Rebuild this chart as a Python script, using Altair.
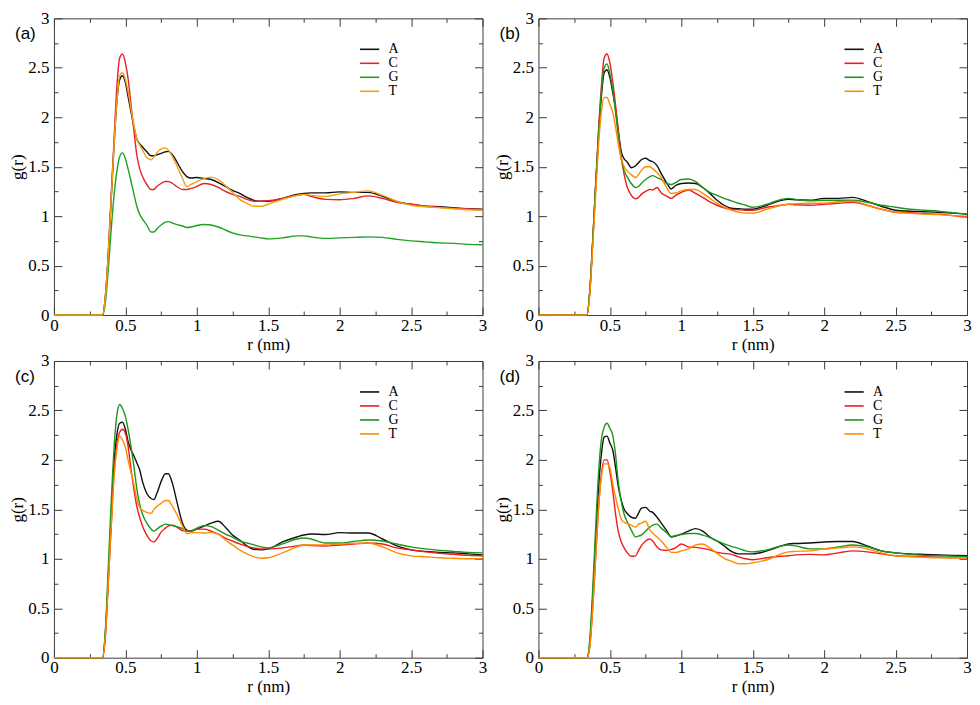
import altair as alt
import pandas as pd

# ---------------- data ----------------
R = [
    0.0, 0.34, 0.36, 0.38, 0.40, 0.42, 0.44, 0.46, 0.48, 0.50,
    0.52, 0.54, 0.56, 0.58, 0.60, 0.62, 0.65, 0.68, 0.70, 0.72,
    0.75, 0.78, 0.80, 0.83, 0.86, 0.90, 0.93, 0.96, 1.00, 1.05,
    1.10, 1.15, 1.20, 1.25, 1.30, 1.35, 1.40, 1.45, 1.50, 1.60,
    1.70, 1.75, 1.80, 1.90, 2.00, 2.10, 2.20, 2.30, 2.40, 2.50,
    2.60, 2.70, 2.80, 2.90, 3.00]

BASES = ["A", "C", "G", "T"]

# panel (a)
A_a = [
    0.0, 0.0, 0.18, 0.6, 1.15, 1.7, 2.15, 2.38, 2.42, 2.35,
    2.2, 2.05, 1.9, 1.78, 1.73, 1.70, 1.65, 1.61, 1.61, 1.62,
    1.635, 1.65, 1.655, 1.62, 1.55, 1.45, 1.40, 1.385, 1.39, 1.38,
    1.37, 1.34, 1.30, 1.26, 1.23, 1.19, 1.16, 1.15, 1.15, 1.18,
    1.22, 1.23, 1.235, 1.235, 1.245, 1.24, 1.24, 1.20, 1.15, 1.12,
    1.10, 1.095, 1.085, 1.075, 1.07]
C_a = [
    0.0, 0.0, 0.2, 0.62, 1.2, 1.75, 2.3, 2.6, 2.64, 2.55,
    2.38, 2.12, 1.86, 1.62, 1.48, 1.40, 1.32, 1.27, 1.27, 1.30,
    1.33, 1.35, 1.35, 1.33, 1.30, 1.27, 1.27, 1.28, 1.30, 1.33,
    1.32, 1.29, 1.25, 1.22, 1.20, 1.17, 1.15, 1.15, 1.155, 1.18,
    1.21, 1.22, 1.20, 1.17, 1.165, 1.18, 1.205, 1.18, 1.14, 1.12,
    1.10, 1.09, 1.08, 1.075, 1.065]
G_a = [
    0.0, 0.0, 0.12, 0.45, 0.85, 1.2, 1.45, 1.6, 1.64, 1.58,
    1.47, 1.35, 1.22, 1.10, 1.02, 0.97, 0.91, 0.84, 0.84, 0.87,
    0.91, 0.94, 0.945, 0.93, 0.915, 0.90, 0.885, 0.89, 0.905, 0.915,
    0.91, 0.89, 0.86, 0.83, 0.81, 0.80, 0.79, 0.78, 0.77, 0.78,
    0.80, 0.80, 0.79, 0.775, 0.78, 0.785, 0.79, 0.785, 0.765, 0.75,
    0.74, 0.73, 0.725, 0.715, 0.71]
T_a = [
    0.0, 0.0, 0.18, 0.6, 1.15, 1.7, 2.15, 2.42, 2.45, 2.38,
    2.25, 2.08, 1.92, 1.78, 1.72, 1.67, 1.59, 1.57, 1.60, 1.64,
    1.68, 1.69, 1.67, 1.60, 1.51, 1.38, 1.30, 1.32, 1.35, 1.38,
    1.395, 1.37, 1.31, 1.24, 1.17, 1.13, 1.10, 1.10, 1.12, 1.17,
    1.21, 1.22, 1.21, 1.20, 1.225, 1.24, 1.255, 1.21, 1.15, 1.11,
    1.095, 1.085, 1.075, 1.065, 1.06]

# panel (b)
A_b = [
    0.0, 0.0, 0.25, 0.75, 1.3, 1.8, 2.2, 2.45, 2.48, 2.4,
    2.25, 2.08, 1.85, 1.65, 1.58, 1.55, 1.49, 1.51, 1.54, 1.57,
    1.585, 1.56, 1.55, 1.51, 1.43, 1.33, 1.275, 1.31, 1.33, 1.335,
    1.33, 1.29, 1.23, 1.16, 1.11, 1.08, 1.075, 1.07, 1.07, 1.11,
    1.16, 1.17, 1.165, 1.16, 1.18, 1.18, 1.19, 1.15, 1.10, 1.06,
    1.05, 1.045, 1.04, 1.03, 1.02]
C_b = [
    0.0, 0.0, 0.25, 0.75, 1.3, 1.85, 2.3, 2.6, 2.64, 2.55,
    2.36, 2.12, 1.85, 1.6, 1.42, 1.30, 1.21, 1.175, 1.19, 1.22,
    1.25, 1.27, 1.265, 1.29, 1.235, 1.20, 1.18, 1.21, 1.24, 1.265,
    1.23, 1.19, 1.145, 1.11, 1.085, 1.07, 1.065, 1.06, 1.06, 1.09,
    1.11, 1.12, 1.115, 1.11, 1.12, 1.13, 1.14, 1.11, 1.07, 1.04,
    1.035, 1.025, 1.02, 1.005, 0.99]
G_b = [
    0.0, 0.0, 0.25, 0.75, 1.3, 1.8, 2.25, 2.5, 2.54, 2.44,
    2.28, 2.05, 1.8, 1.58, 1.46, 1.40, 1.33, 1.29, 1.30, 1.33,
    1.37, 1.40, 1.41, 1.39, 1.37, 1.33, 1.32, 1.34, 1.37, 1.375,
    1.35, 1.29, 1.24, 1.21, 1.18, 1.155, 1.13, 1.11, 1.09, 1.12,
    1.17, 1.18, 1.17, 1.155, 1.16, 1.16, 1.16, 1.14, 1.11, 1.09,
    1.07, 1.06, 1.05, 1.035, 1.02]
T_b = [
    0.0, 0.0, 0.22, 0.7, 1.2, 1.7, 2.05, 2.2, 2.2, 2.13,
    2.05, 1.9, 1.72, 1.58, 1.50, 1.46, 1.42, 1.39, 1.42, 1.46,
    1.50, 1.50, 1.48, 1.44, 1.39, 1.28, 1.23, 1.235, 1.255, 1.27,
    1.27, 1.23, 1.18, 1.13, 1.09, 1.06, 1.04, 1.03, 1.03, 1.07,
    1.11, 1.12, 1.125, 1.13, 1.13, 1.145, 1.15, 1.11, 1.07, 1.04,
    1.03, 1.02, 1.015, 1.005, 1.0]

# panel (c)
A_c = [
    0.0, 0.0, 0.25, 0.8, 1.4, 1.95, 2.25, 2.37, 2.38, 2.31,
    2.18, 2.10, 2.04, 1.97, 1.90, 1.78, 1.66, 1.61, 1.60, 1.66,
    1.78, 1.86, 1.86, 1.76, 1.58, 1.36, 1.29, 1.28, 1.30, 1.33,
    1.36, 1.38, 1.32, 1.24, 1.19, 1.13, 1.095, 1.09, 1.10, 1.17,
    1.22, 1.24, 1.25, 1.245, 1.265, 1.26, 1.26, 1.20, 1.13, 1.09,
    1.075, 1.065, 1.06, 1.05, 1.04]
C_c = [
    0.0, 0.0, 0.22, 0.75, 1.3, 1.85, 2.15, 2.28, 2.31, 2.27,
    2.13, 1.9, 1.70, 1.53, 1.42, 1.33, 1.24, 1.18, 1.17, 1.20,
    1.27, 1.31, 1.33, 1.34, 1.32, 1.285, 1.28, 1.285, 1.30, 1.30,
    1.28, 1.25, 1.21, 1.18, 1.15, 1.125, 1.11, 1.10, 1.10, 1.11,
    1.13, 1.14, 1.135, 1.13, 1.14, 1.15, 1.16, 1.15, 1.11, 1.09,
    1.07, 1.055, 1.045, 1.035, 1.03]
G_c = [
    0.0, 0.0, 0.28, 0.9, 1.55, 2.1, 2.45, 2.56, 2.52, 2.44,
    2.30, 2.13, 1.93, 1.71, 1.55, 1.45, 1.36, 1.30, 1.28, 1.30,
    1.33, 1.35, 1.345, 1.335, 1.325, 1.305, 1.28, 1.28, 1.31, 1.335,
    1.325, 1.29, 1.25, 1.22, 1.18, 1.16, 1.14, 1.12, 1.11, 1.15,
    1.20, 1.21, 1.20, 1.16, 1.16, 1.175, 1.19, 1.18, 1.15, 1.12,
    1.10, 1.085, 1.075, 1.065, 1.06]
T_c = [
    0.0, 0.0, 0.22, 0.75, 1.3, 1.8, 2.1, 2.24, 2.2, 2.13,
    1.99, 1.87, 1.75, 1.60, 1.52, 1.49, 1.47, 1.46, 1.50, 1.53,
    1.56, 1.59, 1.59, 1.53, 1.45, 1.33, 1.255, 1.265, 1.265, 1.26,
    1.265, 1.25, 1.19, 1.14, 1.09, 1.05, 1.02, 1.005, 1.01, 1.06,
    1.12, 1.14, 1.14, 1.14, 1.15, 1.155, 1.16, 1.12, 1.06, 1.03,
    1.02, 1.01, 1.005, 1.0, 1.0]

# panel (d)
A_d = [
    0.0, 0.0, 0.15, 0.6, 1.15, 1.7, 2.05, 2.23, 2.24, 2.17,
    2.1, 1.92, 1.72, 1.59, 1.50, 1.46, 1.42, 1.41, 1.46, 1.51,
    1.52, 1.48, 1.47, 1.42, 1.36, 1.28, 1.22, 1.23, 1.25, 1.28,
    1.305, 1.28, 1.22, 1.18, 1.13, 1.075, 1.05, 1.05, 1.05, 1.08,
    1.13, 1.15, 1.155, 1.16, 1.17, 1.175, 1.175, 1.13, 1.08, 1.06,
    1.05, 1.045, 1.04, 1.035, 1.03]
C_d = [
    0.0, 0.0, 0.12, 0.5, 1.0, 1.5, 1.85, 2.0, 2.0, 1.88,
    1.69, 1.45, 1.27, 1.17, 1.11, 1.065, 1.025, 1.03, 1.08, 1.13,
    1.18, 1.20, 1.18, 1.12, 1.09, 1.085, 1.095, 1.11, 1.15, 1.12,
    1.115, 1.105, 1.09, 1.065, 1.055, 1.045, 1.02, 1.0, 0.99, 1.01,
    1.025, 1.03, 1.04, 1.045, 1.04, 1.06, 1.08, 1.07, 1.05, 1.03,
    1.025, 1.02, 1.015, 1.01, 1.01]
G_d = [
    0.0, 0.0, 0.2, 0.7, 1.3, 1.85, 2.2, 2.33, 2.37, 2.32,
    2.25, 2.05, 1.76, 1.58, 1.45, 1.38, 1.29, 1.22, 1.23, 1.24,
    1.28, 1.32, 1.34, 1.35, 1.31, 1.26, 1.225, 1.235, 1.245, 1.255,
    1.255, 1.24, 1.215, 1.18, 1.15, 1.125, 1.105, 1.08, 1.07, 1.09,
    1.13, 1.14, 1.13, 1.10, 1.10, 1.12, 1.14, 1.12, 1.08, 1.06,
    1.045, 1.035, 1.03, 1.025, 1.02]
T_d = [
    0.0, 0.0, 0.12, 0.5, 1.0, 1.5, 1.82, 1.96, 1.96, 1.92,
    1.76, 1.62, 1.50, 1.40, 1.37, 1.355, 1.34, 1.32, 1.35, 1.36,
    1.38, 1.29, 1.26, 1.22, 1.18, 1.11, 1.065, 1.065, 1.08, 1.10,
    1.14, 1.15, 1.11, 1.055, 1.005, 0.975, 0.95, 0.95, 0.96, 0.99,
    1.05, 1.07, 1.075, 1.08, 1.10, 1.11, 1.12, 1.10, 1.06, 1.03,
    1.02, 1.015, 1.01, 1.01, 1.01]

MAJOR = [0, 0.5, 1, 1.5, 2, 2.5, 3]
MINOR = [0.25, 0.75, 1.25, 1.75, 2.25, 2.75]

COLORS_A = ["#111111", "#e3242b", "#1fa21f", "#f2a20c"]
COLORS_B = ["#111111", "#f01c1c", "#1c961c", "#ff8c00"]

FRAME = "#3c3c3c"
SERIF = "Liberation Serif"
SANS = "Liberation Sans"
W, H = 429, 297


def ax(**kw):
    base = dict(grid=False, domain=False, tickColor=FRAME, tickWidth=1,
                labelFlush=False, format="~g",
                labelFont=SERIF, labelFontSize=17, labelColor="black",
                titleFont=SERIF, titleFontSize=17, titleFontWeight="normal",
                titleColor="black")
    base.update(kw)
    return alt.Axis(**base)


def panel(tag, series, colors):
    df = pd.DataFrame([
        {"r": r, "g": g, "base": name}
        for name, vals in zip(BASES, series)
        for r, g in zip(R, vals)
    ])
    xs = alt.Scale(domain=[0, 3], nice=False, zero=False)
    ys = alt.Scale(domain=[0, 3], nice=False, zero=False)

    lines = alt.Chart(df).mark_line(strokeWidth=1.4, interpolate="monotone").encode(
        x=alt.X("r:Q", scale=xs,
                axis=ax(orient="bottom", values=MAJOR, tickSize=8, offset=-8,
                        title="r (nm)", labelPadding=2, titlePadding=3)),
        y=alt.Y("g:Q", scale=ys,
                axis=ax(orient="left", values=MAJOR, tickSize=8, offset=-8,
                        title="g(r)", labelPadding=5, titlePadding=1)),
        color=alt.Color("base:N",
                        scale=alt.Scale(domain=BASES, range=colors),
                        legend=alt.Legend(title=None, orient="none",
                                          legendX=309, legendY=24,
                                          symbolType="M-1.6,0H1.6",
                                          symbolSize=144,
                                          symbolStrokeWidth=1.6,
                                          labelFont=SERIF, labelFontSize=14,
                                          labelColor="black",
                                          labelOffset=12, rowPadding=0,
                                          padding=0)),
    )

    def tick_layer(vals, xo, yo, size):
        data = pd.DataFrame({"v": vals})
        return alt.Chart(data).mark_point(opacity=0).encode(
            x=alt.X("v:Q", scale=xs,
                    axis=ax(orient=xo, values=vals, tickSize=size, offset=-size,
                            labels=False, title=None)),
            y=alt.Y("v:Q", scale=ys,
                    axis=ax(orient=yo, values=vals, tickSize=size, offset=-size,
                            labels=False, title=None)),
        )

    minor_bl = tick_layer(MINOR, "bottom", "left", 4)
    major_tr = tick_layer(MAJOR, "top", "right", 8)
    minor_tr = tick_layer(MINOR, "top", "right", 4)

    label = alt.Chart(pd.DataFrame({"t": [tag]})).mark_text(
        font=SANS, fontSize=17, align="left", baseline="alphabetic", color="black"
    ).encode(x=alt.value(-39), y=alt.value(21), text="t:N")

    return alt.layer(lines, minor_bl, major_tr, minor_tr, label).resolve_axis(
        x="independent", y="independent"
    ).properties(width=W, height=H)


pa = panel("(a)", [A_a, C_a, G_a, T_a], COLORS_A)
pb = panel("(b)", [A_b, C_b, G_b, T_b], COLORS_B)
pc = panel("(c)", [A_c, C_c, G_c, T_c], COLORS_B)
pd_ = panel("(d)", [A_d, C_d, G_d, T_d], COLORS_B)

chart = alt.concat(
    pa, pb, pc, pd_, columns=2,
    spacing={"row": 46, "column": 56}, bounds="flush"
).resolve_scale(color="independent").properties(
    padding=0, background="white"
).configure_view(
    stroke=FRAME, strokeWidth=1
)

chart.save("out.html", embed_options={"renderer": "svg", "actions": False})
